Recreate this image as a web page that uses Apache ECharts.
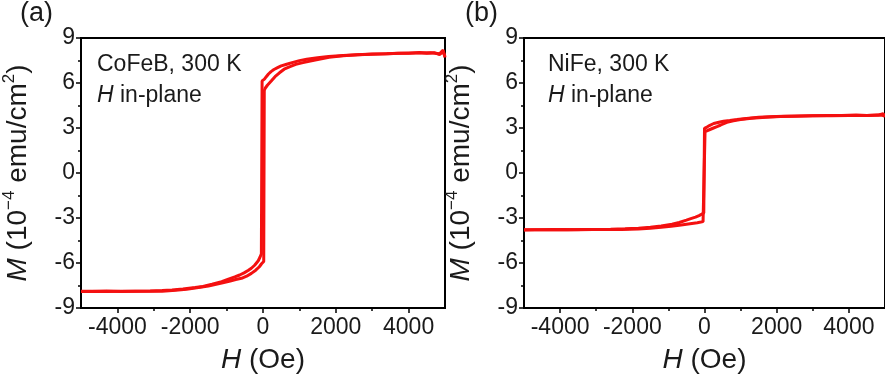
<!DOCTYPE html>
<html>
<head>
<meta charset="utf-8">
<script src="https://cdn.jsdelivr.net/npm/echarts@6/dist/echarts.min.js"></script>
<style>
  html, body { margin: 0; padding: 0; background: #fff; }
  #chart { width: 885px; height: 379px; }
</style>
</head>
<body>
<div id="chart"></div>
<script>
// Field axis ticks (Oe) and magnetization axis ticks (1e-4 emu/cm^2)
const xMajorTicks = [-4000, -2000, 0, 2000, 4000];
const xMinorTicks = [-3000, -1000, 1000, 3000];
const yMin = -9, yMax = 9, yStep = 3;

// CoFeB loop, descending branch (+H -> -H)
const cofebDownH = [5000, 4950, 4850, 4700, 4500, 4300, 4000, 3700, 3400, 3000, 2600, 2200, 1800, 1500, 1200, 1000, 800, 650, 500, 400, 300, 220, 150, 90, 40, 0, -25, -45, -80, -130, -230, -320, -410, -520, -640, -775, -950, -1135, -1400, -1650, -1865, -2200, -2500, -2770, -3100, -3500, -3900, -4300, -4700, -5000];
const cofebDownM = [7.75, 8.1, 7.9, 8.02, 7.98, 8.03, 7.99, 7.98, 7.95, 7.93, 7.88, 7.83, 7.76, 7.68, 7.58, 7.49, 7.36, 7.25, 7.14, 7.02, 6.9, 6.76, 6.6, 6.42, 6.26, 6.2, 6.14, -5.39, -5.6, -5.85, -6.15, -6.35, -6.5, -6.66, -6.8, -6.93, -7.08, -7.25, -7.42, -7.56, -7.64, -7.74, -7.8, -7.84, -7.86, -7.88, -7.89, -7.9, -7.88, -7.9];

// CoFeB loop, ascending branch (-H -> +H)
const cofebUpH = [-5000, -4700, -4300, -3900, -3500, -3100, -2770, -2400, -2100, -1865, -1500, -1135, -900, -750, -590, -450, -320, -200, -100, -40, 0, 20, 35, 60, 120, 226, 330, 452, 580, 725, 900, 1100, 1400, 1816, 2200, 2600, 3000, 3400, 3800, 4200, 4600, 4850, 4950, 5000];
const cofebUpM = [-7.88, -7.9, -7.87, -7.9, -7.89, -7.88, -7.89, -7.82, -7.75, -7.67, -7.53, -7.34, -7.2, -7.1, -7.02, -6.88, -6.69, -6.48, -6.25, -6.05, -5.95, -5.9, 5.5, 5.65, 5.85, 6.13, 6.42, 6.68, 6.92, 7.08, 7.24, 7.36, 7.52, 7.72, 7.82, 7.88, 7.92, 7.95, 7.98, 8.0, 8.02, 7.95, 8.2, 7.7];

// NiFe loop, descending branch
const nifeDownH = [5000, 4950, 4800, 4500, 4200, 3800, 3400, 3000, 2600, 2200, 1800, 1500, 1160, 900, 700, 527, 400, 255, 150, 80, 30, 0, -15, -20, -60, -150, -250, -380, -500, -700, -900, -1200, -1500, -1830, -2200, -2600, -3000, -3400, -3800, -4200, -4600, -4900, -5000];
const nifeDownM = [3.75, 3.95, 3.86, 3.84, 3.86, 3.84, 3.83, 3.82, 3.8, 3.78, 3.75, 3.71, 3.64, 3.56, 3.5, 3.45, 3.38, 3.3, 3.18, 3.08, 3.0, 2.98, 2.95, -2.67, -2.74, -2.84, -2.94, -3.04, -3.14, -3.3, -3.42, -3.53, -3.61, -3.68, -3.72, -3.75, -3.76, -3.77, -3.78, -3.77, -3.78, -3.79, -3.78];

// NiFe loop, ascending branch
const nifeUpH = [-5000, -4700, -4300, -3900, -3500, -3100, -2700, -2300, -1830, -1500, -1200, -925, -700, -500, -350, -200, -100, -40, 0, 10, 15, 60, 150, 250, 345, 450, 620, 800, 1000, 1300, 1700, 2100, 2500, 3000, 3500, 4000, 4500, 4900, 5000];
const nifeUpM = [-3.8, -3.78, -3.79, -3.77, -3.78, -3.77, -3.76, -3.76, -3.74, -3.69, -3.62, -3.55, -3.48, -3.41, -3.36, -3.31, -3.27, -3.24, -3.22, -3.2, 2.76, 2.8, 2.9, 3.0, 3.09, 3.2, 3.38, 3.48, 3.56, 3.65, 3.72, 3.76, 3.79, 3.81, 3.82, 3.83, 3.84, 3.86, 3.8];

const FONT = '"Liberation Sans", Arial, sans-serif';
const INK = '#1a1a1a';
const RED = '#f41010';
const zip = (h, m) => h.map((v, i) => [v, m[i]]);

const grids = [
  { left: 78, top: 38, width: 367, height: 276 },
  { left: 524, top: 38, width: 367, height: 276 }
];

const xAxes = [];
const yAxes = [];
grids.forEach((g, gi) => {
  xAxes.push({
    gridIndex: gi, type: 'value', min: -5000, max: 5000,
    axisLine: { onZero: false, lineStyle: { color: '#000', width: 2 } },
    axisTick: { show: true, length: 5, customValues: xMajorTicks, lineStyle: { color: '#000', width: 1.5 } },
    axisLabel: { customValues: xMajorTicks, formatter: v => String(v), fontSize: 23, color: INK, fontFamily: FONT, margin: 8 },
    splitLine: { show: false },
    name: '{i|H} (Oe)', nameLocation: 'middle', nameGap: 38,
    nameTextStyle: { fontSize: 28, color: INK, fontFamily: FONT,
      rich: { i: { fontSize: 28, fontStyle: 'italic', color: INK, fontFamily: FONT } } }
  });
  // minor field ticks
  xAxes.push({
    gridIndex: gi, type: 'value', min: -5000, max: 5000, position: 'bottom',
    axisLine: { show: false, onZero: false },
    axisTick: { show: true, length: 3, customValues: xMinorTicks, lineStyle: { color: '#000', width: 1.5 } },
    axisLabel: { show: false }, splitLine: { show: false }
  });
  yAxes.push({
    gridIndex: gi, type: 'value', min: yMin, max: yMax, interval: yStep,
    axisLine: { show: true, onZero: false, lineStyle: { color: '#000', width: 2 } },
    axisTick: { show: true, length: 5, lineStyle: { color: '#000', width: 1.5 } },
    minorTick: { show: true, splitNumber: 2, length: 3, lineStyle: { color: '#000', width: 1.5 } },
    axisLabel: { fontSize: 23, color: INK, fontFamily: FONT, margin: 6 },
    splitLine: { show: false },
    name: '{i|M} (10{s|−4} emu/cm{s|2})', nameLocation: 'middle', nameGap: 46, nameRotate: 90,
    nameTextStyle: { fontSize: 28, color: INK, fontFamily: FONT,
      rich: {
        i: { fontSize: 28, fontStyle: 'italic', color: INK, fontFamily: FONT, lineHeight: 34 },
        s: { fontSize: 17, verticalAlign: 'top', lineHeight: 34, color: INK, fontFamily: FONT }
      } }
  });
});

const lineSeries = (data, gi) => ({
  type: 'line', data, xAxisIndex: gi * 2, yAxisIndex: gi,
  showSymbol: false, symbol: 'none', smooth: false, animation: false,
  lineStyle: { color: RED, width: 3 }, z: 3
});

const textStyle = (txt, x, y, size) => ({
  type: 'text', x, y,
  style: {
    text: txt, font: size + 'px ' + FONT, fill: INK, verticalAlign: 'middle',
    rich: { i: { fontStyle: 'italic', fontSize: size, fontFamily: FONT, fill: INK } }
  }
});

const chart = echarts.init(document.getElementById('chart'), null, { renderer: 'canvas' });
chart.setOption({
  animation: false,
  backgroundColor: '#fff',
  grid: grids.map(g => Object.assign({ show: true, borderColor: '#000', borderWidth: 2, backgroundColor: 'transparent' }, g)),
  xAxis: xAxes,
  yAxis: yAxes,
  series: [
    lineSeries(zip(cofebDownH, cofebDownM), 0),
    lineSeries(zip(cofebUpH, cofebUpM), 0),
    lineSeries(zip(nifeDownH, nifeDownM), 1),
    lineSeries(zip(nifeUpH, nifeUpM), 1)
  ],
  graphic: [
    textStyle('(a)', 20, 14, 27),
    textStyle('(b)', 465, 14, 27),
    textStyle('CoFeB, 300 K', 97, 65, 23),
    textStyle('{i|H} in-plane', 97, 96, 23),
    textStyle('NiFe, 300 K', 548, 65, 23),
    textStyle('{i|H} in-plane', 548, 96, 23)
  ]
});
</script>
</body>
</html>
